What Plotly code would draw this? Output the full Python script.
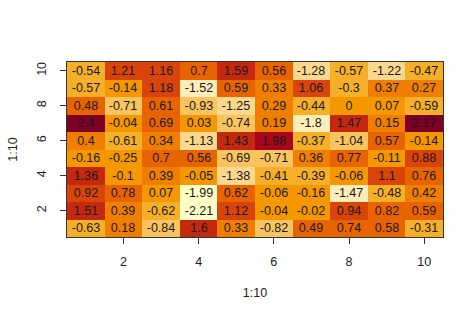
import plotly.graph_objects as go

x_vals = list(range(1, 11))
y_vals = list(range(1, 11))

# rows listed from y=1 (bottom) to y=10 (top)
z_rows = [
    [-0.63, 0.18, -0.84, 1.6, 0.33, -0.82, 0.49, 0.74, 0.58, -0.31],
    [1.51, 0.39, -0.62, -2.21, 1.12, -0.04, -0.02, 0.94, 0.82, 0.59],
    [0.92, 0.78, 0.07, -1.99, 0.62, -0.06, -0.16, -1.47, -0.48, 0.42],
    [1.36, -0.1, 0.39, -0.05, -1.38, -0.41, -0.39, -0.06, 1.1, 0.76],
    [-0.16, -0.25, 0.7, 0.56, -0.69, -0.71, 0.36, 0.77, -0.11, 0.88],
    [0.4, -0.61, 0.34, -1.13, 1.43, 1.98, -0.37, -1.04, 0.57, -0.14],
    [2.4, -0.04, 0.69, 0.03, -0.74, 0.19, -1.8, 1.47, 0.15, 2.17],
    [0.48, -0.71, 0.61, -0.93, -1.25, 0.29, -0.44, 0, 0.07, -0.59],
    [-0.57, -0.14, 1.18, -1.52, 0.59, 0.33, 1.06, -0.3, 0.37, 0.27],
    [-0.54, 1.21, 1.16, 0.7, 1.59, 0.56, -1.28, -0.57, -1.22, -0.47],
]
text_rows = [[("%g" % v) for v in row] for row in z_rows]

tick_vals = [2, 4, 6, 8, 10]
tick_text = ["2", "4", "6", "8", "10"]

palette = ["#FFFFC8", "#FEEDB8", "#FBD88E", "#F9C460", "#F6AF28", "#F49700",
           "#F07E00", "#E86400", "#D8440A", "#C4280E", "#A8061A", "#7D0025"]
n = len(palette)
colorscale = []
for i, c in enumerate(palette):
    colorscale.append([i / n, c])
    colorscale.append([(i + 1) / n, c])

zmin = min(min(r) for r in z_rows)
zmax = max(max(r) for r in z_rows)

fig = go.Figure(go.Heatmap(
    x=x_vals, y=y_vals, z=z_rows,
    text=text_rows, texttemplate="%{text}",
    textfont=dict(family="Liberation Sans, Arial, sans-serif", size=12.5, color="#1a1a1a"),
    colorscale=colorscale, zmin=zmin, zmax=zmax,
    showscale=False, xgap=0, ygap=0, hoverinfo="skip",
))

axis_font = dict(family="Liberation Sans, Arial, sans-serif", size=12.5, color="#222")
fig.update_layout(
    width=474, height=316,
    margin=dict(l=62, r=31, t=62, b=79),
    paper_bgcolor="white", plot_bgcolor="white",
    font=axis_font,
    xaxis=dict(range=[0.5, 10.5], tickvals=tick_vals, ticktext=tick_text,
               ticks="outside", ticklen=6, tickcolor="#333", tickwidth=1,
               ticklabelstandoff=7,
               showline=True, linecolor="#333", linewidth=1, mirror=True,
               showgrid=False, zeroline=False,
               title=dict(text="1:10", standoff=20, font=axis_font)),
    yaxis=dict(range=[0.5, 10.5], tickvals=tick_vals, ticktext=tick_text,
               ticks="outside", ticklen=6, tickcolor="#333", tickwidth=1,
               tickangle=-90, ticklabelstandoff=9,
               showline=True, linecolor="#333", linewidth=1, mirror=True,
               showgrid=False, zeroline=False,
               title=dict(text="1:10", standoff=14, font=axis_font)),
)

fig.write_html("out.html")
